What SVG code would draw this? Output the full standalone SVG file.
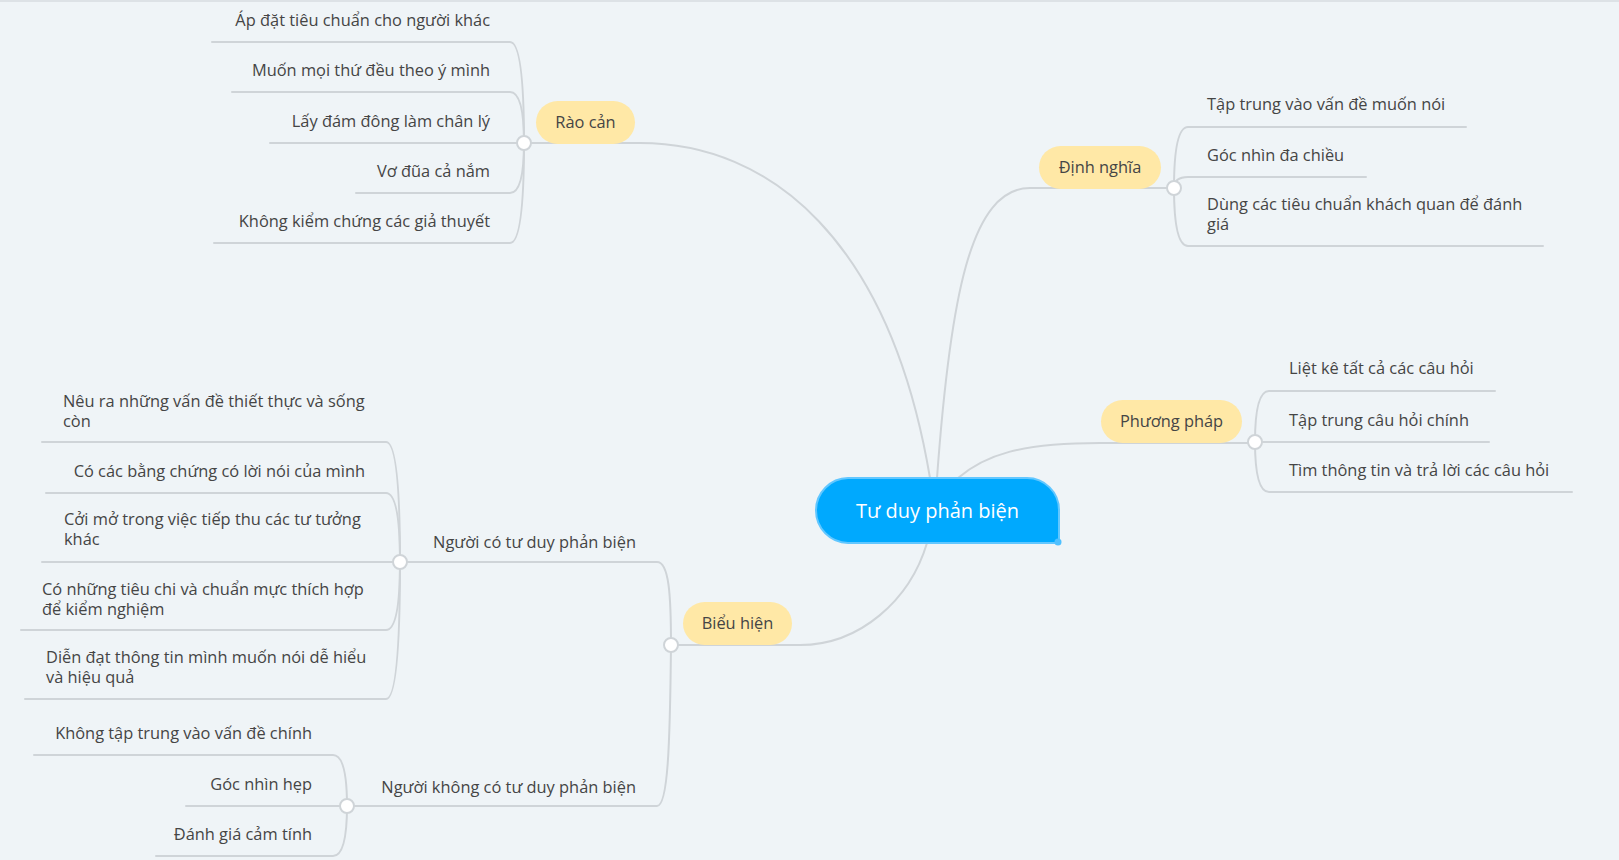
<svg xmlns="http://www.w3.org/2000/svg" width="1619" height="860" viewBox="0 0 1619 860">
<style>
.bg{fill:#EFF4F7}
.ln{fill:none;stroke:#CFD4D8;stroke-width:2;stroke-linecap:round}
.jn{fill:#FFFFFF;stroke:#CFD4D8;stroke-width:2}
.pill{fill:#FFE8A6}
.t{font-family:'Open Sans','Noto Sans',sans-serif;font-size:16.4px;fill:#454545}
.tl{text-anchor:end}
.tc{text-anchor:middle}
.ct{font-family:'Open Sans','Noto Sans',sans-serif;font-size:20px;fill:#FFFFFF;text-anchor:middle}
</style>
<rect class="bg" x="0" y="0" width="1619" height="860"/>
<rect x="0" y="0" width="1619" height="2" fill="#DDE2E6"/>

<g id="connectors">
  <!-- central to main topics -->
  <path class="ln" d="M 930 478 C 890 240, 770 143, 640 143 L 524 143"/>
  <path class="ln" d="M 937 478 C 950 300, 970 188, 1030 188 H 1174"/>
  <path class="ln" d="M 958 478 C 985 455, 1020 443, 1100 443 H 1255"/>
  <path class="ln" d="M 927 543 C 910 600, 860 645, 800 645 H 671"/>
  <!-- Rào cản children -->
  <path class="ln" d="M 524 143 C 524 87, 521 42, 510 42 H 212"/>
  <path class="ln" d="M 524 143 C 524 115, 521 92, 510 92 H 232"/>
  <path class="ln" d="M 524 143 H 270"/>
  <path class="ln" d="M 524 143 C 524 171, 521 193, 510 193 H 356"/>
  <path class="ln" d="M 524 143 C 524 198, 521 243, 510 243 H 214"/>
  <!-- Định nghĩa children -->
  <path class="ln" d="M 1174 188 C 1174 154, 1177 127, 1188 127 H 1466"/>
  <path class="ln" d="M 1174 188 C 1174 182, 1177 177, 1188 177 H 1366"/>
  <path class="ln" d="M 1174 188 C 1174 220, 1177 246, 1188 246 H 1543"/>
  <!-- Phương pháp children -->
  <path class="ln" d="M 1255 442 C 1255 414, 1258 391, 1269 391 H 1495"/>
  <path class="ln" d="M 1255 442 H 1489"/>
  <path class="ln" d="M 1255 442 C 1255 470, 1258 492, 1269 492 H 1572"/>
  <!-- Biểu hiện children -->
  <path class="ln" d="M 671 645 C 671 595, 669 562, 657 562 H 400"/>
  <path class="ln" d="M 671 645 C 670 745, 668 806, 657 806 H 347"/>
  <!-- Người có tư duy phản biện children -->
  <path class="ln" d="M 400 562 C 400 496, 397 442, 386 442 H 42"/>
  <path class="ln" d="M 400 562 C 400 524, 397 493, 386 493 H 46"/>
  <path class="ln" d="M 400 562 H 42"/>
  <path class="ln" d="M 400 562 C 400 599, 397 630, 386 630 H 21"/>
  <path class="ln" d="M 400 562 C 400 637, 397 699, 386 699 H 25"/>
  <!-- Người không có tư duy phản biện children -->
  <path class="ln" d="M 347 806 C 347 778, 344 755, 333 755 H 34"/>
  <path class="ln" d="M 347 806 H 186"/>
  <path class="ln" d="M 347 806 C 347 834, 344 856, 333 856 H 156"/>
</g>

<g id="central">
  <path d="M 848 478 H 1027 A 32 32 0 0 1 1059 510 V 543 H 848 A 32.5 32.5 0 0 1 816 510.5 A 32.5 32.5 0 0 1 848 478 Z" fill="#00A9FE" stroke="#62C7FF" stroke-width="2"/>
  <circle cx="1058" cy="542" r="3.5" fill="#4FC0FF"/>
  <text class="ct" x="937.5" y="518">Tư duy phản biện</text>
</g>

<g id="rao-can">
  <rect class="pill" x="536" y="101" width="99" height="43" rx="21.5"/>
  <text class="t tc" x="585.5" y="128">Rào cản</text>
  <circle class="jn" cx="524" cy="143" r="7"/>
</g>
<g id="rc-1"><text class="t tl" x="490" y="26">Áp đặt tiêu chuẩn cho người khác</text></g>
<g id="rc-2"><text class="t tl" x="490" y="76">Muốn mọi thứ đều theo ý mình</text></g>
<g id="rc-3"><text class="t tl" x="490" y="127">Lấy đám đông làm chân lý</text></g>
<g id="rc-4"><text class="t tl" x="490" y="177">Vơ đũa cả nắm</text></g>
<g id="rc-5"><text class="t tl" x="490" y="227">Không kiểm chứng các giả thuyết</text></g>

<g id="dinh-nghia">
  <rect class="pill" x="1039" y="146" width="122" height="43" rx="21.5"/>
  <text class="t tc" x="1100" y="173">Định nghĩa</text>
  <circle class="jn" cx="1174" cy="188" r="7"/>
</g>
<g id="dn-1"><text class="t" x="1207" y="110">Tập trung vào vấn đề muốn nói</text></g>
<g id="dn-2"><text class="t" x="1207" y="161">Góc nhìn đa chiều</text></g>
<g id="dn-3"><text class="t" x="1207" y="210">Dùng các tiêu chuẩn khách quan để đánh</text><text class="t" x="1207" y="230">giá</text></g>

<g id="phuong-phap">
  <rect class="pill" x="1101" y="400" width="141" height="43" rx="21.5"/>
  <text class="t tc" x="1171.5" y="427">Phương pháp</text>
  <circle class="jn" cx="1255" cy="442" r="7"/>
</g>
<g id="pp-1"><text class="t" x="1289" y="374">Liệt kê tất cả các câu hỏi</text></g>
<g id="pp-2"><text class="t" x="1289" y="426">Tập trung câu hỏi chính</text></g>
<g id="pp-3"><text class="t" x="1289" y="476">Tìm thông tin và trả lời các câu hỏi</text></g>

<g id="bieu-hien">
  <rect class="pill" x="683" y="602" width="109" height="43" rx="21.5"/>
  <text class="t tc" x="737.5" y="629">Biểu hiện</text>
  <circle class="jn" cx="671" cy="645" r="7"/>
</g>

<g id="nguoi-co">
  <text class="t tl" x="636" y="548">Người có tư duy phản biện</text>
  <circle class="jn" cx="400" cy="562" r="7"/>
</g>
<g id="nc-1"><text class="t" x="63" y="407">Nêu ra những vấn đề thiết thực và sống</text><text class="t" x="63" y="427">còn</text></g>
<g id="nc-2"><text class="t tl" x="365" y="477">Có các bằng chứng có lời nói của mình</text></g>
<g id="nc-3"><text class="t" x="64" y="525">Cởi mở trong việc tiếp thu các tư tưởng</text><text class="t" x="64" y="545">khác</text></g>
<g id="nc-4"><text class="t" x="42" y="595">Có những tiêu chi và chuẩn mực thích hợp</text><text class="t" x="42" y="615">để kiểm nghiệm</text></g>
<g id="nc-5"><text class="t" x="46" y="663">Diễn đạt thông tin mình muốn nói dễ hiểu</text><text class="t" x="46" y="683">và hiệu quả</text></g>

<g id="nguoi-khong-co">
  <text class="t tl" x="636" y="793">Người không có tư duy phản biện</text>
  <circle class="jn" cx="347" cy="806" r="7"/>
</g>
<g id="nk-1"><text class="t tl" x="312" y="739">Không tập trung vào vấn đề chính</text></g>
<g id="nk-2"><text class="t tl" x="312" y="790">Góc nhìn hẹp</text></g>
<g id="nk-3"><text class="t tl" x="312" y="840">Đánh giá cảm tính</text></g>
</svg>
